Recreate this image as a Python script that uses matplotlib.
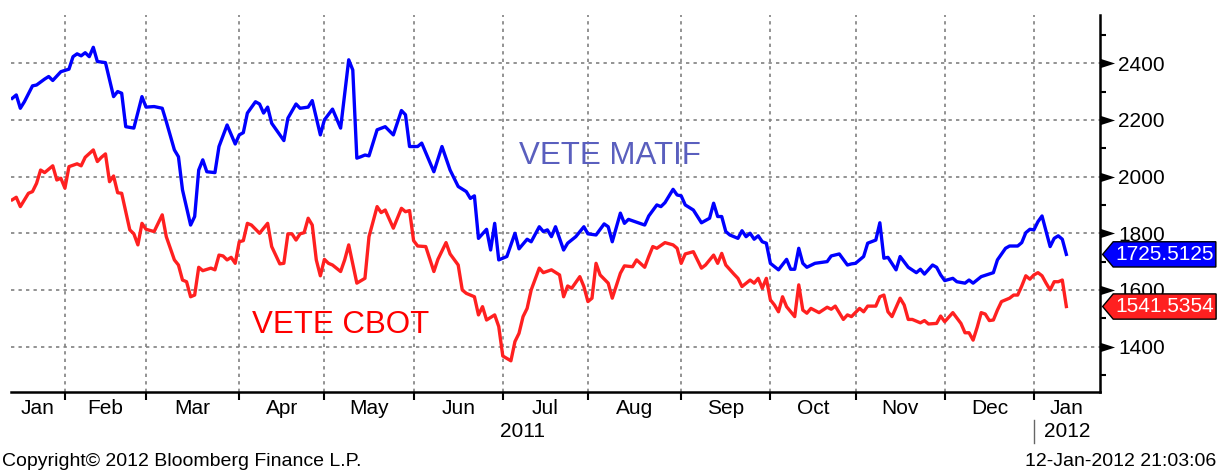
import numpy as np
import matplotlib
matplotlib.use("Agg")
import matplotlib.pyplot as plt
from matplotlib.path import Path
from matplotlib.transforms import blended_transform_factory

# VETE MATIF (blue) - trading days
blue_dates = """
2011-01-13 2011-01-14 2011-01-17 2011-01-18 2011-01-20 2011-01-21 2011-01-25 2011-01-26 2011-01-27 2011-01-31
2011-02-02 2011-02-03 2011-02-04 2011-02-07 2011-02-08 2011-02-09 2011-02-10 2011-02-11 2011-02-15 2011-02-17
2011-02-18 2011-02-21 2011-02-22 2011-02-24 2011-02-28
2011-03-01 2011-03-03 2011-03-07 2011-03-08 2011-03-10 2011-03-11 2011-03-14 2011-03-16 2011-03-17 2011-03-18
2011-03-21 2011-03-22 2011-03-24 2011-03-25 2011-03-29 2011-03-31
2011-04-01 2011-04-04 2011-04-05 2011-04-07 2011-04-08 2011-04-11 2011-04-12 2011-04-13 2011-04-18 2011-04-19
2011-04-21 2011-04-22 2011-04-26 2011-04-27 2011-04-29
2011-05-02 2011-05-04 2011-05-06 2011-05-10 2011-05-11 2011-05-12 2011-05-13 2011-05-16 2011-05-17 2011-05-19
2011-05-23 2011-05-25 2011-05-27 2011-05-30 2011-05-31
2011-06-02 2011-06-03 2011-06-08 2011-06-10 2011-06-14 2011-06-16 2011-06-20 2011-06-21 2011-06-22 2011-06-23
2011-06-27 2011-06-28 2011-06-29 2011-06-30
2011-07-04 2011-07-06 2011-07-07 2011-07-11 2011-07-12 2011-07-14 2011-07-15 2011-07-18 2011-07-19 2011-07-20
2011-07-22 2011-07-25 2011-07-27 2011-07-29
2011-08-01 2011-08-03 2011-08-05 2011-08-08 2011-08-09 2011-08-11 2011-08-12 2011-08-15 2011-08-19 2011-08-22
2011-08-24 2011-08-25 2011-08-26 2011-08-30 2011-08-31
2011-09-01 2011-09-02 2011-09-06 2011-09-08 2011-09-12 2011-09-13 2011-09-14 2011-09-15 2011-09-16 2011-09-19
2011-09-21 2011-09-22 2011-09-23 2011-09-26 2011-09-27 2011-09-28 2011-09-29 2011-09-30
2011-10-03 2011-10-05 2011-10-07 2011-10-10 2011-10-11 2011-10-12 2011-10-13 2011-10-14 2011-10-18 2011-10-21
2011-10-24 2011-10-26 2011-10-28 2011-10-31
2011-11-01 2011-11-03 2011-11-04 2011-11-08 2011-11-09 2011-11-10 2011-11-11 2011-11-15 2011-11-16 2011-11-18
2011-11-22 2011-11-23 2011-11-24 2011-11-28 2011-11-29 2011-11-30
2011-12-01 2011-12-05 2011-12-06 2011-12-08 2011-12-09 2011-12-12 2011-12-14 2011-12-19 2011-12-20 2011-12-22
2011-12-23 2011-12-27 2011-12-28 2011-12-29 2011-12-30
2012-01-02 2012-01-03 2012-01-04 2012-01-06 2012-01-09 2012-01-10 2012-01-11 2012-01-12
""".split()
blue_vals = [
    2276, 2288, 2241, 2264, 2320, 2323, 2344, 2353, 2339, 2370,
    2379, 2423, 2433, 2426, 2437, 2423, 2456, 2406, 2402, 2282,
    2300, 2294, 2176, 2171, 2282,
    2245, 2247, 2241, 2194, 2094, 2070, 1953, 1829, 1859, 2023,
    2059, 2017, 2014, 2106, 2182, 2115,
    2147, 2155, 2224, 2264, 2256, 2224, 2245, 2188, 2127, 2206,
    2256, 2241, 2245, 2268, 2147,
    2200, 2238, 2171, 2412, 2376, 2065, 2070, 2076, 2073, 2165,
    2176, 2147, 2233, 2218, 2106,
    2106, 2118, 2017, 2106, 2023, 1965, 1947, 1923, 1932, 1782,
    1814, 1741, 1835, 1706,
    1718, 1800, 1745, 1779, 1770, 1823, 1806, 1812, 1788, 1823,
    1741, 1765, 1788, 1823,
    1798, 1794, 1833, 1823, 1770, 1871, 1835, 1849, 1829, 1861,
    1900, 1894, 1908, 1955, 1935,
    1932, 1900, 1882, 1837, 1853, 1906, 1859, 1859, 1806, 1794,
    1782, 1809, 1788, 1800, 1779, 1791, 1770, 1765,
    1694, 1671, 1708, 1673, 1673, 1747, 1694, 1680, 1694, 1700,
    1720, 1727, 1688, 1692,
    1694, 1718, 1765, 1776, 1837, 1712, 1715, 1671, 1718, 1680,
    1661, 1673, 1656, 1688, 1680, 1653,
    1633, 1641, 1629, 1624, 1635, 1624, 1647, 1661, 1706, 1747,
    1755, 1755, 1767, 1802, 1814,
    1812, 1841, 1861, 1753, 1782, 1791, 1779, 1725.5125,
]

# VETE CBOT (red)
red_dates = """
2011-01-13 2011-01-14 2011-01-17 2011-01-19 2011-01-20 2011-01-21 2011-01-24 2011-01-25 2011-01-27 2011-01-28
2011-01-31
2011-02-01 2011-02-02 2011-02-04 2011-02-07 2011-02-08 2011-02-10 2011-02-11 2011-02-14 2011-02-15 2011-02-16
2011-02-17 2011-02-18 2011-02-21 2011-02-23 2011-02-24 2011-02-25 2011-02-28
2011-03-01 2011-03-03 2011-03-07 2011-03-08 2011-03-10 2011-03-11 2011-03-14 2011-03-15 2011-03-16 2011-03-17
2011-03-18 2011-03-21 2011-03-23 2011-03-24 2011-03-25 2011-03-28 2011-03-29 2011-03-30 2011-03-31
2011-04-01 2011-04-04 2011-04-05 2011-04-06 2011-04-08 2011-04-12 2011-04-13 2011-04-15 2011-04-18 2011-04-19
2011-04-20 2011-04-21 2011-04-22 2011-04-25 2011-04-26 2011-04-27 2011-04-28 2011-04-29
2011-05-02 2011-05-03 2011-05-04 2011-05-06 2011-05-09 2011-05-10 2011-05-12 2011-05-16 2011-05-17 2011-05-19
2011-05-20 2011-05-23 2011-05-25 2011-05-27 2011-05-30 2011-05-31
2011-06-01 2011-06-02 2011-06-06 2011-06-08 2011-06-09 2011-06-13 2011-06-14 2011-06-16 2011-06-17 2011-06-20
2011-06-22 2011-06-23 2011-06-24 2011-06-27 2011-06-29 2011-06-30
2011-07-01 2011-07-05 2011-07-06 2011-07-07 2011-07-08 2011-07-11 2011-07-12 2011-07-14 2011-07-15 2011-07-19
2011-07-21 2011-07-22 2011-07-25 2011-07-26 2011-07-28 2011-07-29
2011-08-01 2011-08-02 2011-08-03 2011-08-04 2011-08-08 2011-08-09 2011-08-11 2011-08-12 2011-08-16 2011-08-17
2011-08-19 2011-08-22 2011-08-23 2011-08-24 2011-08-26 2011-08-30 2011-08-31
2011-09-01 2011-09-02 2011-09-06 2011-09-08 2011-09-09 2011-09-13 2011-09-14 2011-09-15 2011-09-16 2011-09-20
2011-09-21 2011-09-22 2011-09-26 2011-09-27 2011-09-28 2011-09-29 2011-09-30
2011-10-03 2011-10-04 2011-10-05 2011-10-06 2011-10-07 2011-10-11 2011-10-12 2011-10-13 2011-10-14 2011-10-17
2011-10-19 2011-10-21 2011-10-24 2011-10-25 2011-10-27 2011-10-28 2011-10-31
2011-11-02 2011-11-03 2011-11-04 2011-11-08 2011-11-09 2011-11-10 2011-11-11 2011-11-14 2011-11-16 2011-11-17
2011-11-18 2011-11-21 2011-11-23 2011-11-24 2011-11-25 2011-11-29 2011-11-30
2011-12-01 2011-12-05 2011-12-07 2011-12-08 2011-12-09 2011-12-12 2011-12-13 2011-12-14 2011-12-15 2011-12-16
2011-12-19 2011-12-20 2011-12-21 2011-12-23 2011-12-26 2011-12-27 2011-12-28 2011-12-29 2011-12-30
2012-01-02 2012-01-03 2012-01-04 2012-01-05 2012-01-06 2012-01-09 2012-01-10 2012-01-11 2012-01-12
""".split()
red_vals = [
    1918, 1927, 1894, 1941, 1947, 1976, 2023, 2014, 2038, 1988,
    1994,
    1959, 2035, 2045, 2038, 2068, 2094, 2053, 2068, 2080, 1982,
    2002, 1943, 1941, 1812, 1798, 1759, 1835,
    1814, 1806, 1865, 1788, 1706, 1688, 1635, 1629, 1576, 1582,
    1680, 1668, 1677, 1671, 1723, 1720, 1706, 1715, 1694,
    1770, 1774, 1835, 1829, 1800, 1835, 1753, 1692, 1694, 1798,
    1798, 1776, 1798, 1802, 1853, 1829, 1706, 1650,
    1708, 1694, 1688, 1665, 1706, 1759, 1624, 1641, 1788, 1894,
    1873, 1882, 1818, 1888, 1876, 1880,
    1774, 1755, 1753, 1665, 1708, 1767, 1727, 1688, 1600, 1588,
    1576, 1512, 1541, 1494, 1512, 1471,
    1367, 1350, 1418, 1447, 1506, 1535, 1600, 1677, 1661, 1671,
    1653, 1576, 1614, 1606, 1647, 1612,
    1559, 1571, 1694, 1653, 1624, 1571, 1659, 1685, 1682, 1706,
    1680, 1718, 1753, 1747, 1767, 1759, 1747,
    1694, 1727, 1735, 1677, 1688, 1723, 1694, 1729, 1688, 1656,
    1641, 1612, 1635, 1624, 1641, 1606, 1641,
    1565, 1547, 1523, 1576, 1541, 1506, 1618, 1529, 1518, 1535,
    1520, 1539, 1532, 1543, 1496, 1512, 1506,
    1535, 1523, 1543, 1543, 1576, 1582, 1523, 1506, 1571, 1547,
    1496, 1496, 1484, 1492, 1480, 1482, 1508,
    1488, 1520, 1482, 1449, 1449, 1423, 1468, 1520, 1515, 1492,
    1494, 1529, 1559, 1571, 1582, 1582, 1614, 1650, 1638,
    1653, 1661, 1650, 1624, 1600, 1629, 1629, 1635, 1541.5354,
]

month_starts = ["2011-02-01", "2011-03-01", "2011-04-01", "2011-05-01", "2011-06-01", "2011-07-01",
                "2011-08-01", "2011-09-01", "2011-10-01", "2011-11-01", "2011-12-01", "2012-01-01"]
month_labels = ["Jan", "Feb", "Mar", "Apr", "May", "Jun", "Jul", "Aug", "Sep", "Oct", "Nov", "Dec", "Jan"]
y_major = [1400, 1600, 1800, 2000, 2200, 2400]
y_minor = [1300, 1500, 1700, 1900, 2100, 2300, 2500]

plt.rcParams['font.family'] = ['Liberation Sans', 'DejaVu Sans']

# x axis runs on trading days (Bloomberg style)
start = np.datetime64('2011-01-12')
bx = np.busday_count(start, np.array(blue_dates, dtype='datetime64[D]'))
rx = np.busday_count(start, np.array(red_dates, dtype='datetime64[D]'))
bounds = np.busday_count(start, np.array(month_starts, dtype='datetime64[D]'))
x_lo, x_hi = 0.7, bounds[-1] + 16.3
edges = np.concatenate([[x_lo], bounds, [x_hi]])
mids = (edges[:-1] + edges[1:]) / 2

fig = plt.figure(figsize=(12.2, 4.71), dpi=100)
ax = fig.add_axes([11 / 1220, 79 / 471, 1089 / 1220, 377 / 471])

ax.plot(bx, blue_vals, color='#0000ff', lw=2.4, zorder=3)
ax.plot(rx, red_vals, color='#ff2020', lw=2.4, zorder=3)

ax.set_xlim(x_lo, x_hi)
ax.set_ylim(1240, 2570)

for s in ['left', 'top']:
    ax.spines[s].set_visible(False)
for s in ['right', 'bottom']:
    ax.spines[s].set_linewidth(1.8)
    ax.spines[s].set_color('black')

# y axis on the right with triangle tick marks
ax.yaxis.tick_right()
ax.set_yticks(y_major)
ax.set_yticks(y_minor, minor=True)
ax.set_yticklabels([str(v) for v in y_major])
ax.tick_params(axis='y', which='major', length=21, width=0, pad=-8, labelsize=15,
               right=True, left=False)
ax.tick_params(axis='y', which='minor', length=4.5, width=1.5, right=True, left=False)
tri = Path([(0, -0.32), (0, 0.32), (1, 0), (0, -0.32)],
           [Path.MOVETO, Path.LINETO, Path.LINETO, Path.CLOSEPOLY])
for t in ax.yaxis.get_major_ticks():
    t.tick2line.set_marker(tri)
    t.tick2line.set_markeredgewidth(0)

# x axis: month boundaries as ticks, month names centred in between
ax.set_xticks(bounds)
ax.set_xticklabels([])
ax.set_xticks(mids, minor=True)
ax.set_xticklabels(month_labels, minor=True)
ax.tick_params(axis='x', which='major', length=6, width=1.5, direction='out')
ax.tick_params(axis='x', which='minor', length=0, pad=5, labelsize=15)

ax.set_axisbelow(True)
ax.grid(True, which='major', color='#808080', linestyle=(0, (2, 2.5)), linewidth=1.2)

trans = blended_transform_factory(ax.transData, ax.transAxes)
ax.text((x_lo + bounds[-1]) / 2, -0.106, "2011", transform=trans, ha='center', va='center', fontsize=15)
ax.text((bounds[-1] + x_hi) / 2, -0.106, "2012", transform=trans, ha='center', va='center', fontsize=15)
ax.plot([bounds[-1], bounds[-1]], [-0.075, -0.135], transform=trans, color='#666666', lw=1, clip_on=False)

ax.text(0.55, 0.626, "VETE MATIF", transform=ax.transAxes, ha='center', va='center',
        fontsize=22.5, color='#5a5fbe')
ax.text(0.303, 0.178, "VETE CBOT", transform=ax.transAxes, ha='center', va='center',
        fontsize=22.5, color='#ff0000')


# value tags with a pointed left end
def tag_shape(x0, y0, width, height, mutation_size):
    pad = 0.15 * mutation_size
    x0, y0, w, h = x0 - 0.1 * mutation_size, y0 - pad, width + 0.2 * mutation_size, height + 2 * pad
    tip = 0.42 * h
    verts = [(x0, y0), (x0 + w, y0), (x0 + w, y0 + h), (x0, y0 + h), (x0 - tip, y0 + h / 2), (x0, y0)]
    codes = [Path.MOVETO] + [Path.LINETO] * 4 + [Path.CLOSEPOLY]
    return Path(verts, codes)


ytrans = blended_transform_factory(ax.transAxes, ax.transData)
for val, col in [(blue_vals[-1], '#0000ff'), (red_vals[-1], '#ff2020')]:
    ax.annotate(f"{val:.4f}", xy=(1, val), xycoords=ytrans, xytext=(11, 0),
                textcoords='offset points', ha='left', va='center', fontsize=15, color='white',
                bbox=dict(boxstyle=tag_shape, fc=col, ec='black', lw=1), annotation_clip=False, zorder=5)

fig.text(0.002, 0.021, "Copyright\u00a9 2012 Bloomberg Finance L.P.", ha='left', va='center', fontsize=14)
fig.text(0.997, 0.021, "12-Jan-2012 21:03:06", ha='right', va='center', fontsize=14)

fig.savefig("out.png", dpi=100)
